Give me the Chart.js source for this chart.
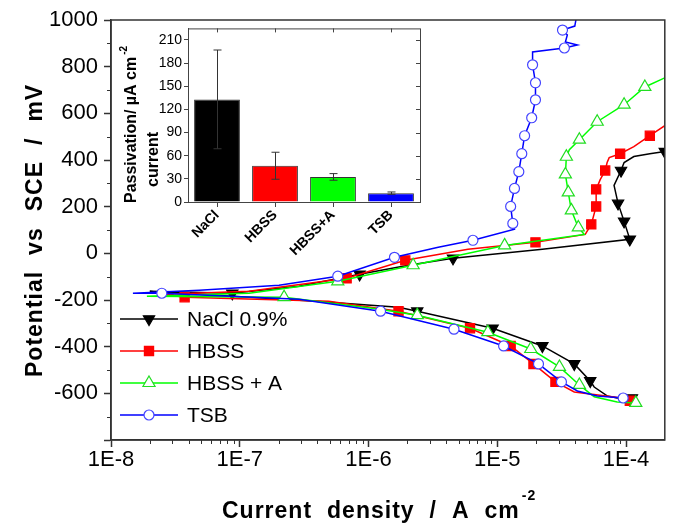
<!DOCTYPE html>
<html>
<head>
<meta charset="utf-8">
<script src="https://cdn.jsdelivr.net/npm/chart.js@4.4.1/dist/chart.umd.min.js"></script>
<style>
  html, body { margin: 0; padding: 0; background: #fff; }
  #wrap { position: relative; width: 673px; height: 525px; }
  #main { position: absolute; left: 0; top: 0; }
  #inset { position: absolute; left: 112px; top: 18px; }
</style>
</head>
<body>
<div id="wrap">
  <canvas id="main" width="673" height="525"></canvas>
  <canvas id="inset" width="312" height="243"></canvas>
</div>
<script>
// Polarisation curves: current density (A cm-2) and potential (mV vs SCE),
// sweep order = cathodic branch from -600 mV, through Ecorr, then anodic.
// *Marker = 1 where the original plot shows a symbol.
const naclCurrent   = [1.11e-4, 8.53e-5, 7.13e-5, 5.66e-5, 5.27e-5, 3.96e-5, 2.24e-5, 9.2e-6, 2.39e-6, 1.71e-6, 3.9e-7, 8.75e-8, 2.0e-8,
                       8.75e-8, 2.88e-7, 8.53e-7, 2.04e-6, 4.53e-6, 2.24e-5, 1.07e-4, 9.66e-5, 8.67e-5, 8.07e-5, 9.14e-5, 9.66e-5, 1.15e-4, 1.53e-4, 2.0e-4];
const naclPotential = [-620, -620, -611, -573, -547, -474, -397, -321, -248, -231, -205, -184, -162,
                       -171, -141, -90, -51, -21, 17, 60, 137, 214, 291, 355, 389, 415, 427, 436];
const naclMarker    = [1,0,0,0,1,1,1,1,1,0,0,0,0, 1,0,1,0,1,0,1,1,1,0,1,0,0,0,1];

const hbssCurrent   = [1.07e-4, 9.3e-5, 3.96e-5, 2.83e-5, 1.91e-5, 1.27e-5, 6.14e-6, 1.71e-6, 4.91e-7, 3.73e-8, 2.61e-8,
                       1.18e-7, 6.76e-7, 1.93e-6, 5.92e-6, 1.98e-5, 4.82e-5, 5.37e-5, 5.86e-5, 5.86e-5, 6.3e-5, 6.89e-5, 7.13e-5, 7.4e-5, 9.0e-5, 1.15e-4, 1.53e-4, 2.0e-4];
const hbssPotential = [-632, -620, -594, -551, -474, -397, -321, -248, -205, -188, -175,
                       -162, -107, -30, 17, 47, 81, 124, 201, 274, 316, 355, 389, 410, 427, 457, 504, 547];
const hbssMarker    = [1,0,0,1,1,1,1,1,0,1,0, 0,1,1,0,1,0,1,1,1,0,1,0,0,1,0,1,0];

const hbssACurrent   = [1.19e-4, 8.53e-5, 5.66e-5, 4.34e-5, 3.04e-5, 1.82e-5, 8.45e-6, 2.39e-6, 1.19e-6, 2.21e-7, 1.9e-8,
                        1.18e-7, 5.77e-7, 2.22e-6, 4.95e-6, 1.14e-5, 4.74e-5, 4.26e-5, 3.76e-5, 3.56e-5, 3.38e-5, 3.44e-5, 3.63e-5, 4.34e-5, 5.97e-5, 9.66e-5, 1.4e-4, 2.0e-4];
const hbssAPotential = [-641, -637, -615, -564, -487, -410, -338, -265, -239, -188, -184,
                        -171, -120, -51, -9, 34, 81, 111, 184, 261, 338, 414, 444, 487, 564, 637, 713, 752];
const hbssAMarker    = [1,0,0,1,1,1,1,1,0,1,0, 0,1,1,0,1,0,1,1,1,1,1,0,1,1,1,1,0];

const tsbCurrent   = [9.5e-5, 5.97e-5, 4.19e-5, 3.15e-5, 2.09e-5, 1.12e-5, 4.61e-6, 1.24e-6, 2.88e-7, 2.48e-8, 1.48e-8,
                      4.86e-8, 2.02e-7, 5.77e-7, 1.59e-6, 3.48e-6, 6.47e-6, 1.36e-5, 1.32e-5, 1.27e-5, 1.36e-5, 1.47e-5, 1.55e-5, 1.63e-5,
                      1.85e-5, 1.98e-5, 1.98e-5, 1.88e-5, 1.88e-5, 3.32e-5, 4.19e-5, 3.38e-5, 3.5e-5, 3.21e-5, 4.0e-5, 4.11e-5];
const tsbPotential = [-620, -611, -590, -551, -474, -397, -325, -248, -197, -171, -171,
                      -158, -137, -98, -17, 26, 56, 103, 128, 201, 278, 350, 427, 504,
                      581, 658, 731, 808, 863, 880, 893, 906, 936, 957, 974, 1010];
const tsbMarker    = [1,0,0,1,1,1,1,1,0,1,0, 0,0,1,1,0,1,0,1,1,1,1,1,1, 1,1,1,1,0,1,0,0,0,1,0,0];

const decadeTicks  = [1e-8, 1e-7, 1e-6, 1e-5, 1e-4];
const decadeLabels = ['1E-8', '1E-7', '1E-6', '1E-5', '1E-4'];

// Inset: passivation current (µA cm-2)
const barLabels = ['NaCl', 'HBSS', 'HBSS+A', 'TSB'];
const barValues = [133, 47, 32.5, 11.5];
const barErrors = [64, 17.5, 4.3, 1.5];
const barColors = ['#000000', '#ff0000', '#00ff00', '#0000ff'];
const barTicks  = [0, 30, 60, 90, 120, 150, 180, 210];

const FONT = '"Liberation Sans", Arial, Helvetica, sans-serif';
Chart.defaults.font.family = FONT;
Chart.defaults.color = '#000';

function makeSeries(label, cur, pot, marks, opts) {
    return {
        label: label,
        data: cur.map((c, i) => ({ x: c, y: pot[i] })),
        showLine: true,
        borderColor: opts.line,
        borderWidth: 1.5,
        tension: 0,
        pointStyle: opts.style,
        rotation: opts.rotation || 0,
        pointRotation: opts.rotation || 0,
        pointRadius: ctx => marks[ctx.dataIndex] ? opts.radius : 0,
        pointHoverRadius: ctx => marks[ctx.dataIndex] ? opts.radius : 0,
        pointBackgroundColor: opts.fill,
        pointBorderColor: opts.marker,
        pointBorderWidth: 1.2,
        order: opts.order
    };
}

const series = [
    makeSeries('NaCl 0.9%', naclCurrent, naclPotential, naclMarker,
        { line: '#000000', marker: '#000000', fill: '#000000', style: 'triangle', rotation: 180, radius: 6.5, order: 4 }),
    makeSeries('HBSS', hbssCurrent, hbssPotential, hbssMarker,
        { line: '#ff0000', marker: '#ff0000', fill: '#ff0000', style: 'rect', radius: 6.5, order: 3 }),
    makeSeries('HBSS + A', hbssACurrent, hbssAPotential, hbssAMarker,
        { line: '#00ff00', marker: '#22dd22', fill: '#ffffff', style: 'triangle', radius: 7, order: 2 }),
    makeSeries('TSB', tsbCurrent, tsbPotential, tsbMarker,
        { line: '#0000ff', marker: '#4444ff', fill: '#ffffff', style: 'circle', radius: 5, order: 1 })
];

// draw words one after another with a fixed gap (the original titles are widely spaced)
function spacedText(ctx, words, x, y, gap) {
    let cx = x;
    words.forEach(w => {
        ctx.fillText(w, cx, y);
        cx += ctx.measureText(w).width + gap;
    });
    return cx - gap;
}

const mainExtras = {
    id: 'mainExtras',
    afterDraw(chart) {
        const { ctx, chartArea: a, scales: { x, y } } = chart;
        ctx.save();
        // frame
        ctx.strokeStyle = '#333';
        ctx.lineWidth = 1.5;
        ctx.strokeRect(a.left, a.top, a.right - a.left, a.bottom - a.top);

        // minor ticks
        ctx.lineWidth = 1;
        ctx.beginPath();
        for (let e = -8; e <= -4; e++) {
            for (let m = 2; m <= 9; m++) {
                const v = m * Math.pow(10, e);
                if (v >= 2e-4) continue;
                const px = Math.round(x.getPixelForValue(v)) + 0.5;
                ctx.moveTo(px, a.bottom);
                ctx.lineTo(px, a.bottom + 4);
            }
        }
        for (let v = -700; v < 1000; v += 200) {
            const py = Math.round(y.getPixelForValue(v)) + 0.5;
            ctx.moveTo(a.left, py);
            ctx.lineTo(a.left - 4, py);
        }
        ctx.stroke();

        // axis titles
        ctx.fillStyle = '#000';
        ctx.textAlign = 'left';
        ctx.textBaseline = 'alphabetic';
        ctx.font = 'bold 23px ' + FONT;
        if ('letterSpacing' in ctx) ctx.letterSpacing = '1px';
        const end = spacedText(ctx, ['Current', 'density', '/', 'A', 'cm'], 222, 518, 15);
        ctx.font = 'bold 14px ' + FONT;
        ctx.fillText('-2', end + 2, 500);

        ctx.save();
        ctx.translate(42, 377);
        ctx.rotate(-Math.PI / 2);
        ctx.font = 'bold 23px ' + FONT;
        spacedText(ctx, ['Potential', 'vs', 'SCE', '/', 'mV'], 0, 0, 16);
        ctx.restore();
        if ('letterSpacing' in ctx) ctx.letterSpacing = '0px';

        // legend (inside the plot, lower left)
        const legendY = [319, 351, 383, 415];
        ctx.font = '21px ' + FONT;
        ctx.textBaseline = 'middle';
        series.forEach((ds, i) => {
            const ly = legendY[i];
            ctx.strokeStyle = ds.borderColor;
            ctx.lineWidth = 1.5;
            ctx.beginPath();
            ctx.moveTo(120, ly);
            ctx.lineTo(178, ly);
            ctx.stroke();
            ctx.fillStyle = ds.pointBackgroundColor;
            ctx.strokeStyle = ds.pointBorderColor;
            ctx.lineWidth = 1.2;
            const r = ds.pointRadius({ dataIndex: 0 });
            Chart.helpers.drawPoint(ctx, { pointStyle: ds.pointStyle, rotation: ds.pointRotation, radius: r, borderWidth: 1.2 }, 149, ly);
            ctx.fillStyle = '#000';
            ctx.fillText(ds.label, 187, ly + 1);
        });
        ctx.restore();
    }
};

new Chart(document.getElementById('main'), {
    type: 'scatter',
    data: { datasets: series },
    options: {
        responsive: false,
        animation: false,
        events: [],
        layout: { padding: { top: 20, right: 5, left: 0, bottom: 0 } },
        plugins: { legend: { display: false }, tooltip: { enabled: false } },
        scales: {
            x: {
                type: 'logarithmic',
                min: 1e-8,
                max: 2e-4,
                afterFit: s => { s.height = 85; },
                afterBuildTicks: s => { s.ticks = decadeTicks.map(v => ({ value: v })); },
                ticks: {
                    autoSkip: false,
                    maxRotation: 0,
                    padding: 0,
                    font: { size: 22 },
                    color: '#000',
                    callback: (v, i) => decadeLabels[i]
                },
                grid: { drawOnChartArea: false, tickLength: 7, tickColor: '#333', tickWidth: 1.5 },
                border: { color: '#333', width: 1.5 }
            },
            y: {
                min: -800,
                max: 1000,
                afterFit: s => { s.width = 111; },
                ticks: {
                    stepSize: 200,
                    padding: 6,
                    font: { size: 22 },
                    color: '#000',
                    callback: v => v === -800 ? '' : v
                },
                grid: { drawOnChartArea: false, tickLength: 7, tickColor: '#333', tickWidth: 1.5 },
                border: { color: '#333', width: 1.5 }
            }
        }
    },
    plugins: [mainExtras]
});

// ---------- inset bar chart ----------
const insetExtras = {
    id: 'insetExtras',
    afterDatasetsDraw(chart) {
        const { ctx, chartArea: a, scales: { x, y } } = chart;
        ctx.save();
        // error bars
        ctx.strokeStyle = '#333';
        ctx.lineWidth = 1;
        ctx.beginPath();
        barValues.forEach((v, i) => {
            const px = Math.round(x.getPixelForValue(i)) + 0.5;
            const yt = y.getPixelForValue(v + barErrors[i]);
            const yb = y.getPixelForValue(v - barErrors[i]);
            ctx.moveTo(px, yt); ctx.lineTo(px, yb);
            ctx.moveTo(px - 4, yt); ctx.lineTo(px + 4, yt);
            ctx.moveTo(px - 4, yb); ctx.lineTo(px + 4, yb);
        });
        ctx.stroke();

        // frame and mirrored ticks
        ctx.strokeStyle = '#444';
        ctx.strokeRect(a.left + 0.5, a.top + 0.5, a.right - a.left, a.bottom - a.top);
        ctx.beginPath();
        y.ticks.forEach(t => {
            const py = Math.round(y.getPixelForValue(t.value)) + 0.5;
            ctx.moveTo(a.right, py); ctx.lineTo(a.right - 4, py);
        });
        barLabels.forEach((l, i) => {
            const px = Math.round(x.getPixelForValue(i)) + 0.5;
            ctx.moveTo(px, a.top); ctx.lineTo(px, a.top + 4);
        });
        ctx.stroke();

        // y title, two lines
        ctx.fillStyle = '#000';
        ctx.textAlign = 'left';
        ctx.textBaseline = 'alphabetic';
        ctx.save();
        ctx.translate(24, 185);
        ctx.rotate(-Math.PI / 2);
        ctx.font = 'bold 16px ' + FONT;
        ctx.fillText('Passivation/ \u00b5A cm', 0, 0);
        const w = ctx.measureText('Passivation/ \u00b5A cm').width;
        ctx.font = 'bold 10px ' + FONT;
        ctx.fillText('-2', w + 2, -9);
        ctx.restore();
        ctx.save();
        ctx.translate(46, 169);
        ctx.rotate(-Math.PI / 2);
        ctx.font = 'bold 16px ' + FONT;
        ctx.fillText('current', 0, 0);
        ctx.restore();
        ctx.restore();
    }
};

new Chart(document.getElementById('inset'), {
    type: 'bar',
    data: {
        labels: barLabels,
        datasets: [{
            data: barValues,
            backgroundColor: barColors,
            borderColor: '#333',
            borderWidth: 1,
            barPercentage: 0.79,
            categoryPercentage: 1
        }]
    },
    options: {
        responsive: false,
        animation: false,
        events: [],
        layout: { padding: { top: 3, right: 4, left: 0, bottom: 0 } },
        plugins: { legend: { display: false }, tooltip: { enabled: false } },
        scales: {
            x: {
                afterFit: s => { s.height = 59; },
                ticks: {
                    autoSkip: false,
                    minRotation: 45,
                    maxRotation: 45,
                    padding: 0,
                    font: { size: 14, weight: 'bold' },
                    color: '#000'
                },
                grid: { drawOnChartArea: false, offset: false, tickLength: 5, tickColor: '#444', tickWidth: 1 },
                border: { color: '#444', width: 1 }
            },
            y: {
                min: 0,
                max: 225,
                afterFit: s => { s.width = 76; },
                afterBuildTicks: s => { s.ticks = barTicks.map(v => ({ value: v })); },
                ticks: { padding: 2, font: { size: 14 }, color: '#000' },
                grid: { drawOnChartArea: false, tickLength: 4, tickColor: '#444', tickWidth: 1 },
                border: { color: '#444', width: 1 }
            }
        }
    },
    plugins: [insetExtras]
});
</script>
</body>
</html>
